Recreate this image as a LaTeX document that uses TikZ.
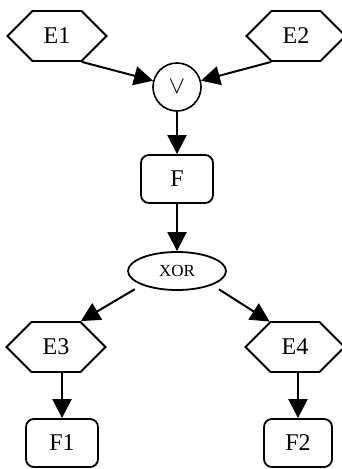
\documentclass[tikz,border=0pt]{standalone}
\usepackage{fontspec}
\setmainfont{Liberation Serif}
\usetikzlibrary{arrows.meta, positioning, shapes.symbols, shapes.geometric}

\tikzset{
  event/.style={draw, line width=1.8pt, signal, signal to=east and west, signal pointer angle=90,
    minimum width=99pt, minimum height=50pt, inner sep=0pt, font=\fontsize{24}{24}\selectfont},
  func/.style={draw, line width=1.8pt, rounded corners=8pt, minimum width=72pt, minimum height=48pt,
    font=\fontsize{24}{24}\selectfont},
  conn/.style={draw, line width=1.6pt, circle, minimum size=48pt, inner sep=0pt},
  arr/.style={line width=2pt, -{Triangle[length=19pt,width=19pt]}}
}

\begin{document}
\begin{tikzpicture}[node distance=92pt, on grid]
            \useasboundingbox (0,0) rectangle (342pt,-469pt);
            \node[conn] (1) at (177pt,-87pt) {\fontsize{26}{26}\selectfont$\vee$};
            \node[event] (2) [above left=51pt and 120pt of 1] {E1};
            \node[event] (3) [above right=51pt and 119pt of 1] {E2};
            \node[func] (4) [below=of 1] {F};
            \node[draw, line width=1.8pt, ellipse, minimum width=98pt, minimum height=38pt,
              font=\fontsize{17}{17}\selectfont] (5) [below=of 4] {XOR};
            \node[event] (6) [below left=76pt and 121pt of 5] {E3};
            \node[event] (7) [below right=76pt and 118pt of 5] {E4};
            \node[func] (8) [below right=96pt and 6pt of 6] {F1};
            \node[func, minimum width=68pt] (9) [below right=96pt and 3pt of 7] {F2};
            \draw[arr] (2.south east) -- (1);
            \draw[arr] (3.south west) -- (1);
            \draw[arr] (1) -- (4);
            \draw[arr] (4) -- (5);
            \draw[arr, shorten <=8pt] (5.south west) -- (6.north east);
            \draw[arr, shorten <=8pt] (5.south east) -- (7.north west);
            \draw[arr] (6.south -| 8.north) -- (8);
            \draw[arr] (7.south -| 9.north) -- (9);
\end{tikzpicture}
\end{document}
